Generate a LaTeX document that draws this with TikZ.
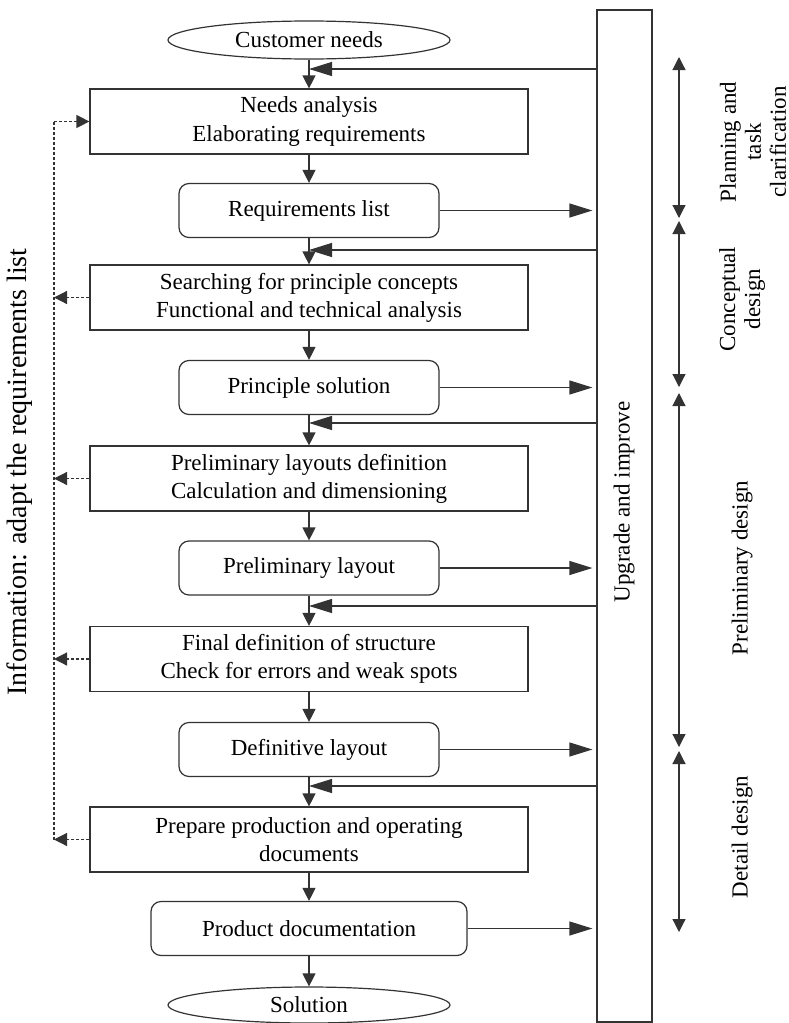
\documentclass[tikz,border=0pt]{standalone}
\usepackage{fontspec}
\setmainfont{Liberation Serif}
\usetikzlibrary{shapes,arrows.meta}

\begin{document}
\begin{tikzpicture}[x=0.5pt, y=-0.5pt, line width=0.6pt, draw=black!80,
  >={Triangle[length=6.5pt, width=6.5pt]},
  font=\fontsize{11.5}{14}\selectfont,
  taskbox/.style={draw, rectangle, minimum width=219pt, minimum height=32.5pt, align=center, inner sep=2pt},
  resultbox/.style={draw, rectangle, rounded corners=5pt, minimum width=130pt, minimum height=27pt},
  endbox/.style={draw, ellipse, minimum width=141pt, minimum height=19pt, inner sep=0pt},
  phase/.style={rotate=90, align=center, font=\fontsize{11.5}{12.5}\selectfont},
  side/.style={-{Triangle[length=11.5pt, width=7pt]}},
  info/.style={->, dash pattern=on 1.5pt off 1pt}]
\useasboundingbox (0,0) rectangle (788,1023);

\draw (309,40) node[endbox] (0) {Customer needs};
\draw (309,121.5) node[taskbox] (1) {Needs analysis\\Elaborating requirements};
\draw (309,210.5) node[resultbox] (2) {Requirements list};
\draw (309,297.5) node[taskbox] (3) {Searching for principle concepts\\Functional and technical analysis};
\draw (309,387.5) node[resultbox] (4) {Principle solution};
\draw (309,478.5) node[taskbox] (5) {Preliminary layouts definition\\Calculation and dimensioning};
\draw (309,568) node[resultbox] (6) {Preliminary layout};
\draw (309,659) node[taskbox] (7) {Final definition of structure\\Check for errors and weak spots};
\draw (309,749.5) node[resultbox] (8) {Definitive layout};
\draw (309,839.5) node[taskbox] (9) {Prepare production and operating\\documents};
\draw (309,928.5) node[resultbox, minimum width=158pt] (10) {Product documentation};
\draw (309,1005) node[endbox, minimum height=18pt] (11) {Solution};

\draw (624.5,516) node[draw, minimum width=27.5pt, minimum height=506pt, inner sep=0pt] (bar) {};
\node[rotate=90] (up) at (624,502) {Upgrade and improve};

% main flow
\foreach \a/\b in {0/1,1/2,2/3,3/4,4/5,5/6,6/7,7/8,8/9,9/10,10/11}
  \draw [->] (\a) -- (\b);

% results go to the bar
\foreach \n in {2,4,6,8,10}
  \draw [side] (\n.east) -- ([xshift=-2pt]\n.east -| bar.west);

% bar feeds back into the flow
\coordinate (f1) at (309,69);
\coordinate (f2) at (309,250);
\coordinate (f3) at (309,423);
\coordinate (f4) at (309,606);
\coordinate (f5) at (309,786);
\foreach \f in {f1,f2,f3,f4,f5}
  \draw [side] (bar.west |- \f) -- (\f);

% information back to the requirements
\coordinate (left) at (54,0);
\draw [dash pattern=on 1.5pt off 1pt] (1.west -| left) -- (9.west -| left);
\draw [info] (1.west -| left) -- (1.west);
\foreach \n in {3,5,7,9}
  \draw [info] (\n.west) -- (\n.west -| left);
\node[rotate=90, font=\fontsize{14}{16}\selectfont] (inf) at (20,472) {Information: adapt the requirements list};

% phases
\coordinate (p0) at (679,57);
\coordinate (p1) at (679,218);
\coordinate (p2) at (679,221);
\coordinate (p3) at (679,387);
\coordinate (p4) at (679,393);
\coordinate (p5) at (679,747);
\coordinate (p6) at (679,751);
\coordinate (p7) at (679,932);
\draw [<->] (p0) -- (p1);
\draw [<->] (p2) -- (p3);
\draw [<->] (p4) -- (p5);
\draw [<->] (p6) -- (p7);
\node[phase] (ph1) at (753,142) {Planning and\\task\\clarification};
\node[phase] (ph2) at (742,299) {Conceptual\\design};
\node[phase] (ph3) at (742,568) {Preliminary design};
\node[phase] (ph4) at (742,837) {Detail design};

\end{tikzpicture}
\end{document}
